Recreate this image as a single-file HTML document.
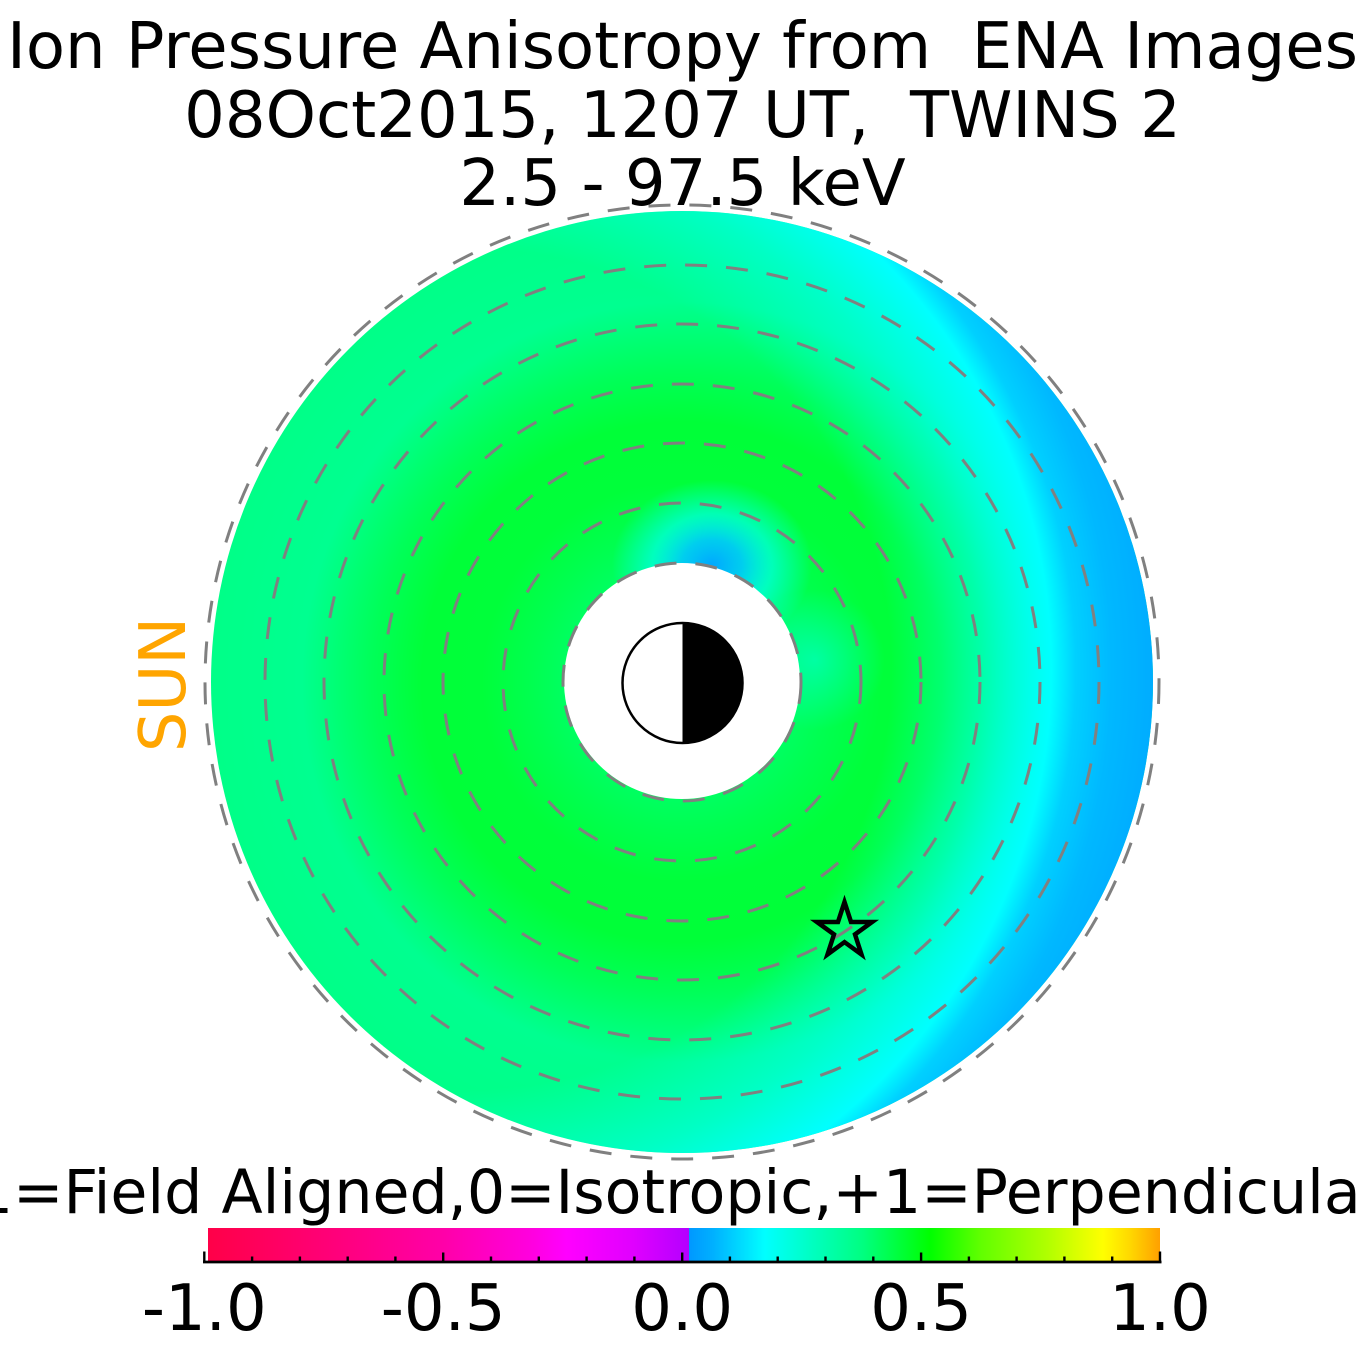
<!DOCTYPE html>
<html>
<head>
<meta charset="utf-8">
<style>
html,body{margin:0;padding:0;background:#ffffff;}
body{width:1365px;height:1365px;overflow:hidden;}
svg{display:block;}
text{font-family:"DejaVu Sans","Liberation Sans",sans-serif;white-space:pre;}
</style>
</head>
<body>
<svg width="1365" height="1365" viewBox="0 0 1365 1365" xmlns="http://www.w3.org/2000/svg" xml:space="preserve">
<defs>
  <clipPath id="diskclip"><circle cx="682" cy="682" r="471"/></clipPath>
  <radialGradient id="ring" gradientUnits="userSpaceOnUse" cx="682" cy="682" r="471">
    <stop offset="0" stop-color="#00ff60"/>
    <stop offset="0.252" stop-color="#00ff60"/>
    <stop offset="0.318" stop-color="#00ff50"/>
    <stop offset="0.425" stop-color="#00ff3a"/>
    <stop offset="0.552" stop-color="#00ff38"/>
    <stop offset="0.658" stop-color="#00ff58"/>
    <stop offset="0.807" stop-color="#00ff90"/>
    <stop offset="1" stop-color="#00ff88"/>
  </radialGradient>
  <radialGradient id="blueside" gradientUnits="userSpaceOnUse" cx="471" cy="669" r="720">
    <stop offset="0" stop-color="#00ffff" stop-opacity="0"/>
    <stop offset="0.583" stop-color="#00ffff" stop-opacity="0"/>
    <stop offset="0.708" stop-color="#00ffff" stop-opacity="0.5"/>
    <stop offset="0.806" stop-color="#00ffff" stop-opacity="1"/>
    <stop offset="0.84" stop-color="#00d0ff" stop-opacity="1"/>
    <stop offset="0.89" stop-color="#00b8ff" stop-opacity="1"/>
    <stop offset="0.97" stop-color="#00a8ff" stop-opacity="1"/>
    <stop offset="1" stop-color="#00a8ff" stop-opacity="1"/>
  </radialGradient>
  <radialGradient id="topspot" gradientUnits="userSpaceOnUse" cx="712" cy="565" r="100" gradientTransform="translate(712 565) scale(1 0.85) translate(-712 -565)">
    <stop offset="0" stop-color="#00a8ff" stop-opacity="1"/>
    <stop offset="0.3" stop-color="#00c8ff" stop-opacity="0.9"/>
    <stop offset="0.6" stop-color="#00ffff" stop-opacity="0.6"/>
    <stop offset="1" stop-color="#00ffff" stop-opacity="0"/>
  </radialGradient>
  <radialGradient id="rightspot" gradientUnits="userSpaceOnUse" cx="815" cy="660" r="70">
    <stop offset="0" stop-color="#00ffff" stop-opacity="0.45"/>
    <stop offset="1" stop-color="#00ffff" stop-opacity="0"/>
  </radialGradient>
  <linearGradient id="cbleft" gradientUnits="userSpaceOnUse" x1="208" y1="0" x2="689" y2="0">
    <stop offset="0" stop-color="#ff0048"/>
    <stop offset="0.254" stop-color="#ff0078"/>
    <stop offset="0.489" stop-color="#ff00a8"/>
    <stop offset="0.676" stop-color="#ff00e0"/>
    <stop offset="0.746" stop-color="#ff00ff"/>
    <stop offset="0.884" stop-color="#e000ff"/>
    <stop offset="1" stop-color="#b400ff"/>
  </linearGradient>
  <linearGradient id="cbright" gradientUnits="userSpaceOnUse" x1="689" y1="0" x2="1160" y2="0">
    <stop offset="0" stop-color="#0098ff"/>
    <stop offset="0.051" stop-color="#00b0ff"/>
    <stop offset="0.161" stop-color="#00ffff"/>
    <stop offset="0.263" stop-color="#00ffc0"/>
    <stop offset="0.369" stop-color="#00ff80"/>
    <stop offset="0.512" stop-color="#00ff00"/>
    <stop offset="0.618" stop-color="#60ff00"/>
    <stop offset="0.76" stop-color="#b0ff00"/>
    <stop offset="0.879" stop-color="#ffff00"/>
    <stop offset="0.936" stop-color="#ffd800"/>
    <stop offset="1" stop-color="#ffa000"/>
  </linearGradient>
</defs>

<!-- Title -->
<text x="682.5" y="68" font-size="64" text-anchor="middle" fill="#000">Ion Pressure Anisotropy from  ENA Images</text>
<text x="682.5" y="137" font-size="64" text-anchor="middle" fill="#000">08Oct2015, 1207 UT,  TWINS 2</text>
<text x="682.5" y="205" font-size="64" text-anchor="middle" fill="#000">2.5 - 97.5 keV</text>

<!-- Disk -->
<g clip-path="url(#diskclip)">
  <rect x="200" y="200" width="970" height="970" fill="url(#ring)"/>
  <rect x="200" y="200" width="970" height="970" fill="url(#blueside)"/>
  <rect x="590" y="450" width="250" height="220" fill="url(#topspot)"/>
  <rect x="740" y="580" width="150" height="160" fill="url(#rightspot)"/>
</g>

<!-- inner white hole -->
<circle cx="682" cy="681" r="118" fill="#ffffff"/>

<!-- dashed circles -->
<g fill="none" stroke="#808080" stroke-width="3" stroke-dasharray="22 19">
  <circle cx="682" cy="682" r="119"/>
  <circle cx="682" cy="682" r="179"/>
  <circle cx="682" cy="682" r="239"/>
  <circle cx="682" cy="682" r="298"/>
  <circle cx="682" cy="682" r="358"/>
  <circle cx="682" cy="682" r="417"/>
  <circle cx="682" cy="682" r="477"/>
</g>

<!-- Earth -->
<circle cx="682.5" cy="683" r="60" fill="#ffffff" stroke="#000" stroke-width="2.5"/>
<path d="M682.5,623 A60,60 0 0,1 682.5,743 Z" fill="#000"/>

<!-- Star -->
<polygon points="844.5,902 851.0,922.0 872.1,922.0 855.0,934.4 861.5,954.5 844.5,942.1 827.5,954.5 834.0,934.4 816.9,922.0 838.0,922.0" fill="none" stroke="#000" stroke-width="4.5" stroke-linejoin="miter"/>

<!-- SUN label -->
<text transform="translate(185,684.5) rotate(-90)" font-size="64" text-anchor="middle" fill="#ffa500">SUN</text>

<!-- Colorbar label -->
<text x="-47" y="1213" font-size="60.2" fill="#000">-1=Field Aligned,0=Isotropic,+1=Perpendicular</text>

<!-- Colorbar -->
<rect x="208" y="1228" width="481.5" height="33" fill="url(#cbleft)"/>
<rect x="689" y="1228" width="471" height="33" fill="url(#cbright)"/>
<line x1="203" y1="1262" x2="1161.5" y2="1262" stroke="#000" stroke-width="2.7"/>
<g stroke="#000" stroke-width="2.4">
  <line x1="204.3" y1="1251.5" x2="204.3" y2="1262"/>
  <line x1="252.1" y1="1256.5" x2="252.1" y2="1262"/>
  <line x1="299.9" y1="1256.5" x2="299.9" y2="1262"/>
  <line x1="347.7" y1="1256.5" x2="347.7" y2="1262"/>
  <line x1="395.4" y1="1256.5" x2="395.4" y2="1262"/>
  <line x1="443.2" y1="1252.5" x2="443.2" y2="1262"/>
  <line x1="491.0" y1="1256.5" x2="491.0" y2="1262"/>
  <line x1="538.8" y1="1256.5" x2="538.8" y2="1262"/>
  <line x1="586.6" y1="1256.5" x2="586.6" y2="1262"/>
  <line x1="634.4" y1="1256.5" x2="634.4" y2="1262"/>
  <line x1="682.2" y1="1252.5" x2="682.2" y2="1262"/>
  <line x1="729.9" y1="1256.5" x2="729.9" y2="1262"/>
  <line x1="777.7" y1="1256.5" x2="777.7" y2="1262"/>
  <line x1="825.5" y1="1256.5" x2="825.5" y2="1262"/>
  <line x1="873.3" y1="1256.5" x2="873.3" y2="1262"/>
  <line x1="921.1" y1="1252.5" x2="921.1" y2="1262"/>
  <line x1="968.9" y1="1256.5" x2="968.9" y2="1262"/>
  <line x1="1016.6" y1="1256.5" x2="1016.6" y2="1262"/>
  <line x1="1064.4" y1="1256.5" x2="1064.4" y2="1262"/>
  <line x1="1112.2" y1="1256.5" x2="1112.2" y2="1262"/>
  <line x1="1160" y1="1251.5" x2="1160" y2="1262"/>
</g>

<!-- Tick labels -->
<g font-size="64" text-anchor="middle" fill="#000">
  <text x="204.3" y="1330">-1.0</text>
  <text x="443.2" y="1330">-0.5</text>
  <text x="682.2" y="1330">0.0</text>
  <text x="921.1" y="1330">0.5</text>
  <text x="1160" y="1330">1.0</text>
</g>
</svg>
</body>
</html>
